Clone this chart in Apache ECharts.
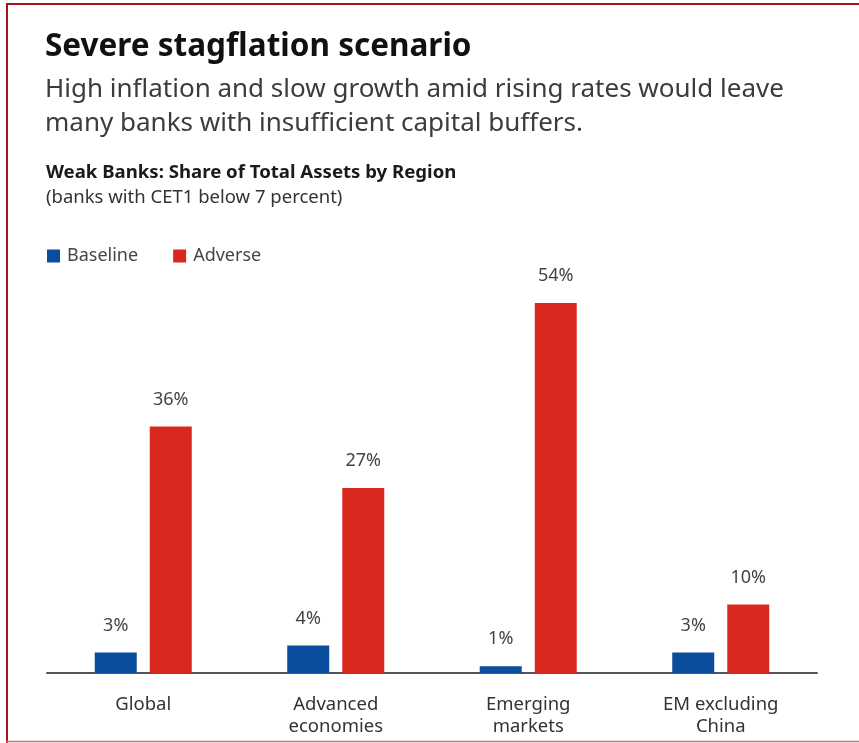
<!DOCTYPE html>
<html>
<head>
<meta charset="utf-8">
<script src="https://cdn.jsdelivr.net/npm/echarts@6/dist/echarts.min.js"></script>
<style>
  html, body { margin: 0; padding: 0; background: #fff; }
  #chart { width: 859px; height: 743px; }
</style>
</head>
<body>
<div id="chart"></div>
<script>
const categories = ['Global', 'Advanced\neconomies', 'Emerging\nmarkets', 'EM excluding\nChina'];
const baseline = [3, 4, 1, 3];
const adverse = [36, 27, 54, 10];
const seriesNames = ['Baseline', 'Adverse'];

const FONT = 'Noto Sans';
const chart = echarts.init(document.getElementById('chart'));

const labelStyle = {
  show: true,
  position: 'top',
  distance: 18,
  formatter: '{c}%',
  fontFamily: FONT,
  fontSize: 18,
  color: '#444'
};

chart.setOption({
  animation: false,
  backgroundColor: '#fff',
  title: [
    { text: 'Severe stagflation scenario', left: 45, top: 31, padding: 0,
      textStyle: { fontFamily: FONT, fontWeight: 'bold', fontSize: 31.5, color: '#111' } },
    { text: 'High inflation and slow growth amid rising rates would leave\nmany banks with insufficient capital buffers.', left: 45, top: 73, padding: 0,
      textStyle: { fontFamily: FONT, fontWeight: 'normal', fontSize: 26, lineHeight: 34, color: '#3c3c3c' } },
    { text: 'Weak Banks: Share of Total Assets by Region', left: 46, top: 163, padding: 0,
      textStyle: { fontFamily: FONT, fontWeight: 'bold', fontSize: 18.6, color: '#1a1a1a' } },
    { text: '(banks with CET1 below 7 percent)', left: 46, top: 188, padding: 0,
      textStyle: { fontFamily: FONT, fontWeight: 'normal', fontSize: 18.5, color: '#333' } }
  ],
  legend: {
    left: 47, top: 247, padding: 0,
    itemWidth: 13, itemHeight: 13, itemGap: 35,
    icon: 'rect',
    textStyle: { fontFamily: FONT, fontSize: 18, color: '#444', padding: [0, 0, 0, 2] },
    data: seriesNames
  },
  grid: { left: 47, right: 42, top: 262, bottom: 70 },
  xAxis: {
    type: 'category',
    data: categories,
    axisLine: { lineStyle: { color: '#555', width: 2 } },
    axisTick: { show: false },
    axisLabel: { fontFamily: FONT, fontSize: 18.5, lineHeight: 22, color: '#333', margin: 21 }
  },
  yAxis: {
    type: 'value', min: 0, max: 60, show: false,
    splitLine: { show: false }
  },
  series: [
    { name: seriesNames[0], type: 'bar', data: baseline, barWidth: 42, barGap: '31%',
      itemStyle: { color: '#0a4d9c' }, label: labelStyle },
    { name: seriesNames[1], type: 'bar', data: adverse, barWidth: 42,
      itemStyle: { color: '#d9291f' }, label: labelStyle }
  ],
  graphic: [
    { type: 'line', shape: { x1: 6, y1: 4, x2: 859, y2: 4 }, style: { stroke: '#a5151b', lineWidth: 2 } },
    { type: 'line', shape: { x1: 7, y1: 3, x2: 7, y2: 743 }, style: { stroke: '#a5151b', lineWidth: 2 } },
    { type: 'line', shape: { x1: 6, y1: 741.5, x2: 859, y2: 741.5 }, style: { stroke: '#d9686a', lineWidth: 1.5 } }
  ]
});
</script>
</body>
</html>
